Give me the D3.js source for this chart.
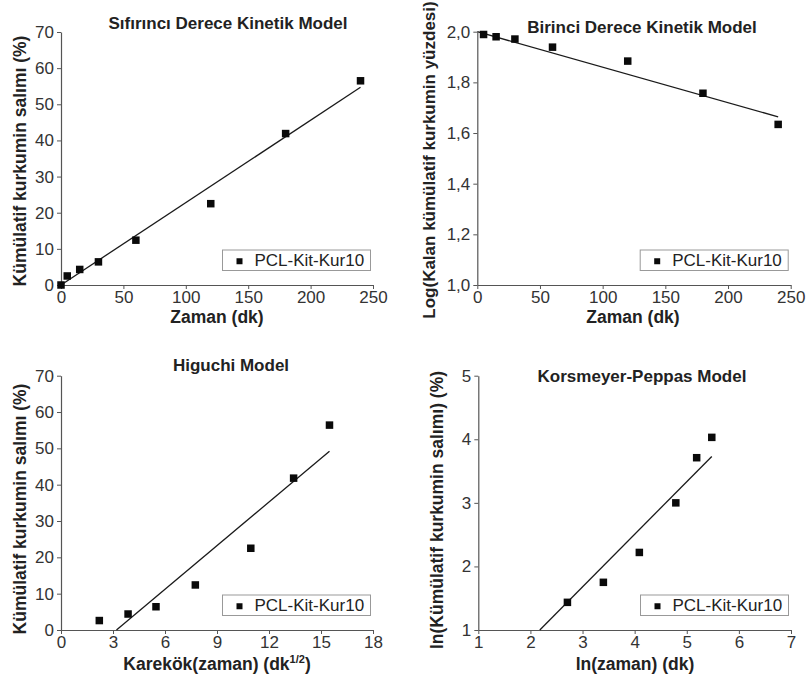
<!DOCTYPE html>
<html>
<head>
    <meta charset="utf-8">
    <script src="https://d3js.org/d3.v7.min.js"></script>
    <style>
        body { margin: 0; background: #fff; }
        svg { font-family: 'Liberation Sans', Arial, sans-serif; }
        .tick text { fill: #333; }
        .domain, .tick line { stroke: #555; }
        .ttl { font-weight: bold; fill: #222; }
        .lbl { font-weight: bold; fill: #222; }
    </style>
</head>
<body>
<div id="chart"></div>
<script>
////////////////////////////////////////////////////////////
//////////////////////// Data //////////////////////////////
////////////////////////////////////////////////////////////
var seriesName = "PCL-Kit-Kur10";

// zero order: cumulative release (%) vs time (min)
var timeMin = [0, 5, 15, 30, 60, 120, 180, 240];
var releasePct = [0, 2.5, 4.3, 6.4, 12.4, 22.5, 41.9, 56.5];
var zeroFit = [[0, 0], [240, 54.7]];

// first order: log of remaining percent vs time
var timeFirst = [5, 15, 30, 60, 120, 180, 240];
var logRemaining = [1.989, 1.980, 1.971, 1.939, 1.884, 1.757, 1.634];
var firstFit = [[0, 2.0], [240, 1.664]];

// higuchi: release vs sqrt(time)
var sqrtTime = [2.21, 3.87, 5.48, 7.75, 10.95, 13.42, 15.49];
var releaseHig = [2.6, 4.4, 6.4, 12.4, 22.5, 41.8, 56.4];
var higuchiFit = [[3.2, 0], [15.49, 49.2]];

// korsmeyer-peppas: ln(release) vs ln(time)
var lnTime = [2.71, 3.40, 4.09, 4.79, 5.19, 5.48];
var lnRelease = [1.435, 1.75, 2.22, 3.0, 3.71, 4.03];
var peppasFit = [[2.18, 1.0], [5.48, 3.73]];

// axis tick values
var xTicksTime = [0, 50, 100, 150, 200, 250];
var yTicksRel = [0, 10, 20, 30, 40, 50, 60, 70];
var yTicksLog = [1.0, 1.2, 1.4, 1.6, 1.8, 2.0];
var xTicksSqrt = [0, 3, 6, 9, 12, 15, 18];
var xTicksLn = [1, 2, 3, 4, 5, 6, 7];
var yTicksLn = [1, 2, 3, 4, 5];

////////////////////////////////////////////////////////////
//////////////////////// Set-Up ////////////////////////////
////////////////////////////////////////////////////////////
var trLocale = d3.formatLocale({decimal: ",", thousands: ".", grouping: [3], currency: ["", ""]});

var svg = d3.select("#chart").append("svg")
    .attr("width", 811)
    .attr("height", 684);

var panels = [
    {
        title: "Sıfırıncı Derece Kinetik Model", titleX: 228, titleY: 29,
        xs: timeMin, ys: releasePct, fit: zeroFit,
        xDom: [0, 250], yDom: [0, 70], xTicks: xTicksTime, yTicks: yTicksRel,
        xFmt: d3.format("d"), yFmt: d3.format("d"),
        left: 61, right: 373, top: 32, bottom: 285,
        xLabel: "Zaman (dk)", xLabelX: 217, xLabelY: 323,
        yLabel: "Kümülatif kurkumin salımı (%)", yLabelX: 25.5, yLabelY: 161, yLabelSize: 17.5
    },
    {
        title: "Birinci Derece Kinetik Model", titleX: 642, titleY: 33,
        xs: timeFirst, ys: logRemaining, fit: firstFit,
        xDom: [0, 250], yDom: [1.0, 2.0], xTicks: xTicksTime, yTicks: yTicksLog,
        xFmt: d3.format("d"), yFmt: trLocale.format(".1f"),
        left: 477.3, right: 790.7, top: 31.7, bottom: 285,
        xLabel: "Zaman (dk)", xLabelX: 633, xLabelY: 323,
        yLabel: "Log(Kalan kümülatif kurkumin yüzdesi)", yLabelX: 435, yLabelY: 160, yLabelSize: 17
    },
    {
        title: "Higuchi Model", titleX: 231, titleY: 370.7,
        xs: sqrtTime, ys: releaseHig, fit: higuchiFit,
        xDom: [0, 18], yDom: [0, 70], xTicks: xTicksSqrt, yTicks: yTicksRel,
        xFmt: d3.format("d"), yFmt: d3.format("d"),
        left: 61, right: 373, top: 375.7, bottom: 630,
        xLabel: "Karekök(zaman) (dk", xSup: "1/2", xLabelX: 217, xLabelY: 670,
        yLabel: "Kümülatif kurkumin salımı (%)", yLabelX: 25.5, yLabelY: 509, yLabelSize: 17.5
    },
    {
        title: "Korsmeyer-Peppas Model", titleX: 642, titleY: 381.7,
        xs: lnTime, ys: lnRelease, fit: peppasFit,
        xDom: [1, 7], yDom: [1, 5], xTicks: xTicksLn, yTicks: yTicksLn,
        xFmt: d3.format("d"), yFmt: d3.format("d"),
        left: 478.3, right: 791, top: 375.7, bottom: 630,
        xLabel: "ln(zaman) (dk)", xLabelX: 635, xLabelY: 670,
        yLabel: "ln(Kümülatif kurkumin salımı) (%)", yLabelX: 443, yLabelY: 510, yLabelSize: 17.5
    }
];

panels.forEach(drawPanel);

////////////////////////////////////////////////////////////
////////////////// Panel drawing ///////////////////////////
////////////////////////////////////////////////////////////
function drawPanel(p) {
    var x = d3.scaleLinear().domain(p.xDom).range([p.left, p.right]);
    var y = d3.scaleLinear().domain(p.yDom).range([p.bottom, p.top]);

    var g = svg.append("g");

    //axes
    g.append("g")
        .attr("transform", "translate(0," + p.bottom + ")")
        .call(d3.axisBottom(x).tickValues(p.xTicks).tickFormat(p.xFmt).tickSize(4).tickSizeOuter(0).tickPadding(2))
        .call(styleAxis);

    g.append("g")
        .attr("transform", "translate(" + p.left + ",0)")
        .call(d3.axisLeft(y).tickValues(p.yTicks).tickFormat(p.yFmt).tickSize(4).tickSizeOuter(0).tickPadding(3))
        .call(styleAxis);

    //fitted line
    g.append("path")
        .datum(p.fit)
        .attr("fill", "none")
        .attr("stroke", "#1a1a1a")
        .attr("stroke-width", 1.3)
        .attr("d", d3.line().x(function(d) { return x(d[0]); }).y(function(d) { return y(d[1]); }));

    //points
    var s = 7.5;
    g.selectAll("rect.pt")
        .data(d3.range(p.xs.length))
        .enter().append("rect")
        .attr("class", "pt")
        .attr("x", function(i) { return x(p.xs[i]) - s / 2; })
        .attr("y", function(i) { return y(p.ys[i]) - s / 2; })
        .attr("width", s)
        .attr("height", s)
        .attr("fill", "#0a0a0a");

    //legend
    var lw = 148, lh = 20.5;
    var lx = p.right - 2.5 - lw, ly = p.bottom - 14.5 - lh;
    var leg = g.append("g").attr("transform", "translate(" + lx + "," + ly + ")");
    leg.append("rect")
        .attr("width", lw).attr("height", lh)
        .attr("fill", "#fff")
        .attr("stroke", "#999")
        .attr("stroke-width", 1);
    leg.append("rect")
        .attr("x", 17 - 3).attr("y", lh / 2 + 1 - 3)
        .attr("width", 6).attr("height", 6)
        .attr("fill", "#0a0a0a");
    leg.append("text")
        .attr("x", 32).attr("y", lh / 2 + 6)
        .style("font-size", "17px")
        .attr("fill", "#222")
        .text(seriesName);

    //title
    g.append("text")
        .attr("class", "ttl")
        .attr("x", p.titleX).attr("y", p.titleY)
        .attr("text-anchor", "middle")
        .style("font-size", "17px")
        .text(p.title);

    //x label
    var xl = g.append("text")
        .attr("class", "lbl")
        .attr("x", p.xLabelX).attr("y", p.xLabelY)
        .attr("text-anchor", "middle")
        .style("font-size", "17.5px")
        .text(p.xLabel);
    if (p.xSup) {
        xl.append("tspan").attr("dy", -7).style("font-size", "11px").text(p.xSup);
        xl.append("tspan").attr("dy", 7).text(")");
    }

    //y label
    g.append("text")
        .attr("class", "lbl")
        .attr("transform", "translate(" + p.yLabelX + "," + p.yLabelY + ") rotate(-90)")
        .attr("text-anchor", "middle")
        .style("font-size", p.yLabelSize + "px")
        .text(p.yLabel);
}

function styleAxis(sel) {
    sel.attr("font-family", null).attr("font-size", null);
    sel.selectAll(".tick text").style("font-size", "17px");
    sel.select(".domain").attr("stroke-width", 1.2);
}
</script>
</body>
</html>
